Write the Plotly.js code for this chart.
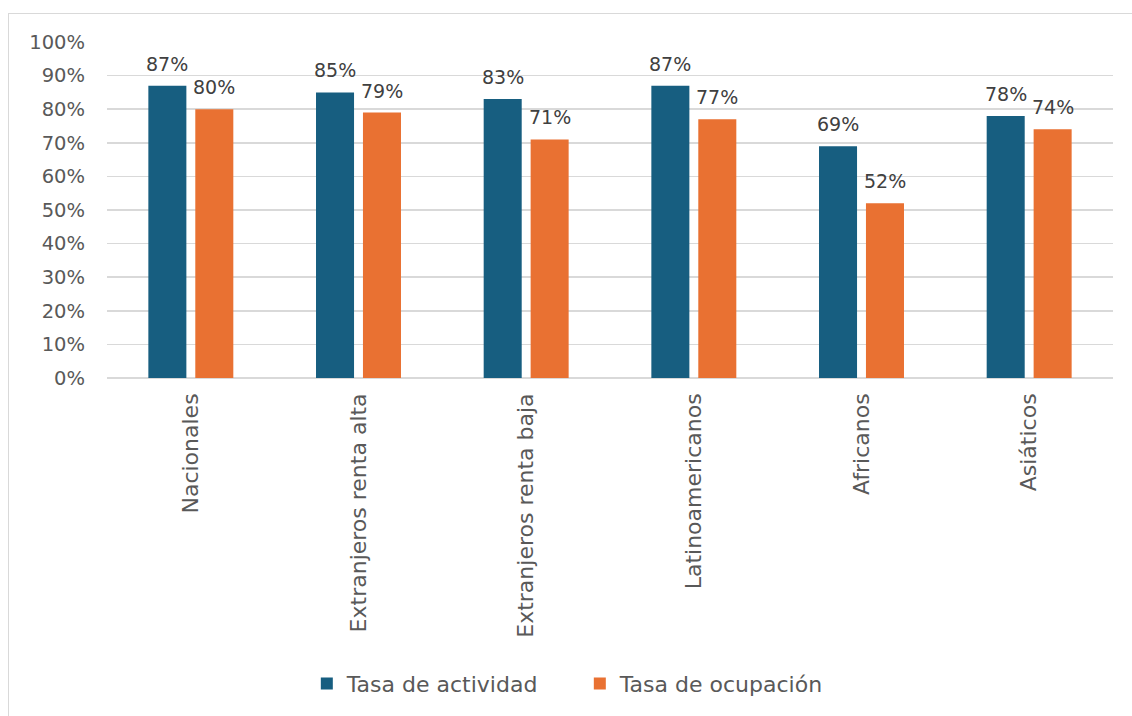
<!DOCTYPE html>
<html><head><meta charset="utf-8">
<script src="https://cdn.plot.ly/plotly-3.0.1.min.js"></script>
<style>
body{margin:0;background:#fff;}
#frame{position:absolute;left:8px;top:13px;width:1130px;height:710px;border:1px solid #d9d9d9;box-sizing:border-box;}
#chart{position:absolute;left:0;top:0;width:1132px;height:716px;}
</style></head>
<body>
<div id="frame"></div>
<div id="chart"></div>
<script>
const categories = ["Nacionales","Extranjeros renta alta","Extranjeros renta baja","Latinoamericanos","Africanos","Asiáticos"];
const tasaActividad = [87,85,83,87,69,78];
const tasaOcupacion = [80,79,71,77,52,74];
const yTicks = [0,10,20,30,40,50,60,70,80,90,100];

const fam = "'DejaVu Sans', sans-serif";
const series = [
  {name:"Tasa de actividad", y:tasaActividad, color:"#175E80", shift:-23.5},
  {name:"Tasa de ocupación", y:tasaOcupacion, color:"#E97132", shift:23.5}
];
const data = series.map(s => ({
  type:"bar", name:s.name, x:categories, y:s.y,
  marker:{color:s.color}, hoverinfo:"skip"
}));
const annotations = [];
series.forEach(s => s.y.forEach((v,i) => annotations.push({
  xref:"x", yref:"y", x:categories[i], y:v, xshift:s.shift, yshift:9,
  yanchor:"bottom", showarrow:false, text:v+"%",
  font:{family:fam, color:"#404040", size:19}
})));
const layout = {
  width:1132, height:716,
  paper_bgcolor:"rgba(0,0,0,0)", plot_bgcolor:"rgba(0,0,0,0)",
  margin:{l:107, r:19, t:42, b:338},
  font:{family:fam, color:"#595959", size:19},
  barmode:"group", bargap:0.44, bargroupgap:0.19,
  xaxis:{tickangle:-90, tickfont:{size:22}, showgrid:false, showline:false, ticks:"", automargin:false, ticklabelstandoff:10},
  yaxis:{range:[0,100], tickvals:yTicks, ticktext:yTicks.map(v=>v+"%"), gridcolor:"#d9d9d9", gridwidth:1.5, zeroline:true, zerolinecolor:"#d9d9d9", zerolinewidth:1.5, showline:false, ticks:"", tickfont:{size:19.5}, automargin:false, ticklabelstandoff:21},
  annotations:annotations,
  showlegend:true,
  legend:{orientation:"h", x:0.47, xanchor:"center", y:-0.91, yanchor:"middle", font:{size:22, color:"#595959"}, entrywidth:228, entrywidthmode:"pixels", traceorder:"normal"}
};
Plotly.newPlot("chart", data, layout, {displayModeBar:false, staticPlot:true});
</script>
</body></html>
